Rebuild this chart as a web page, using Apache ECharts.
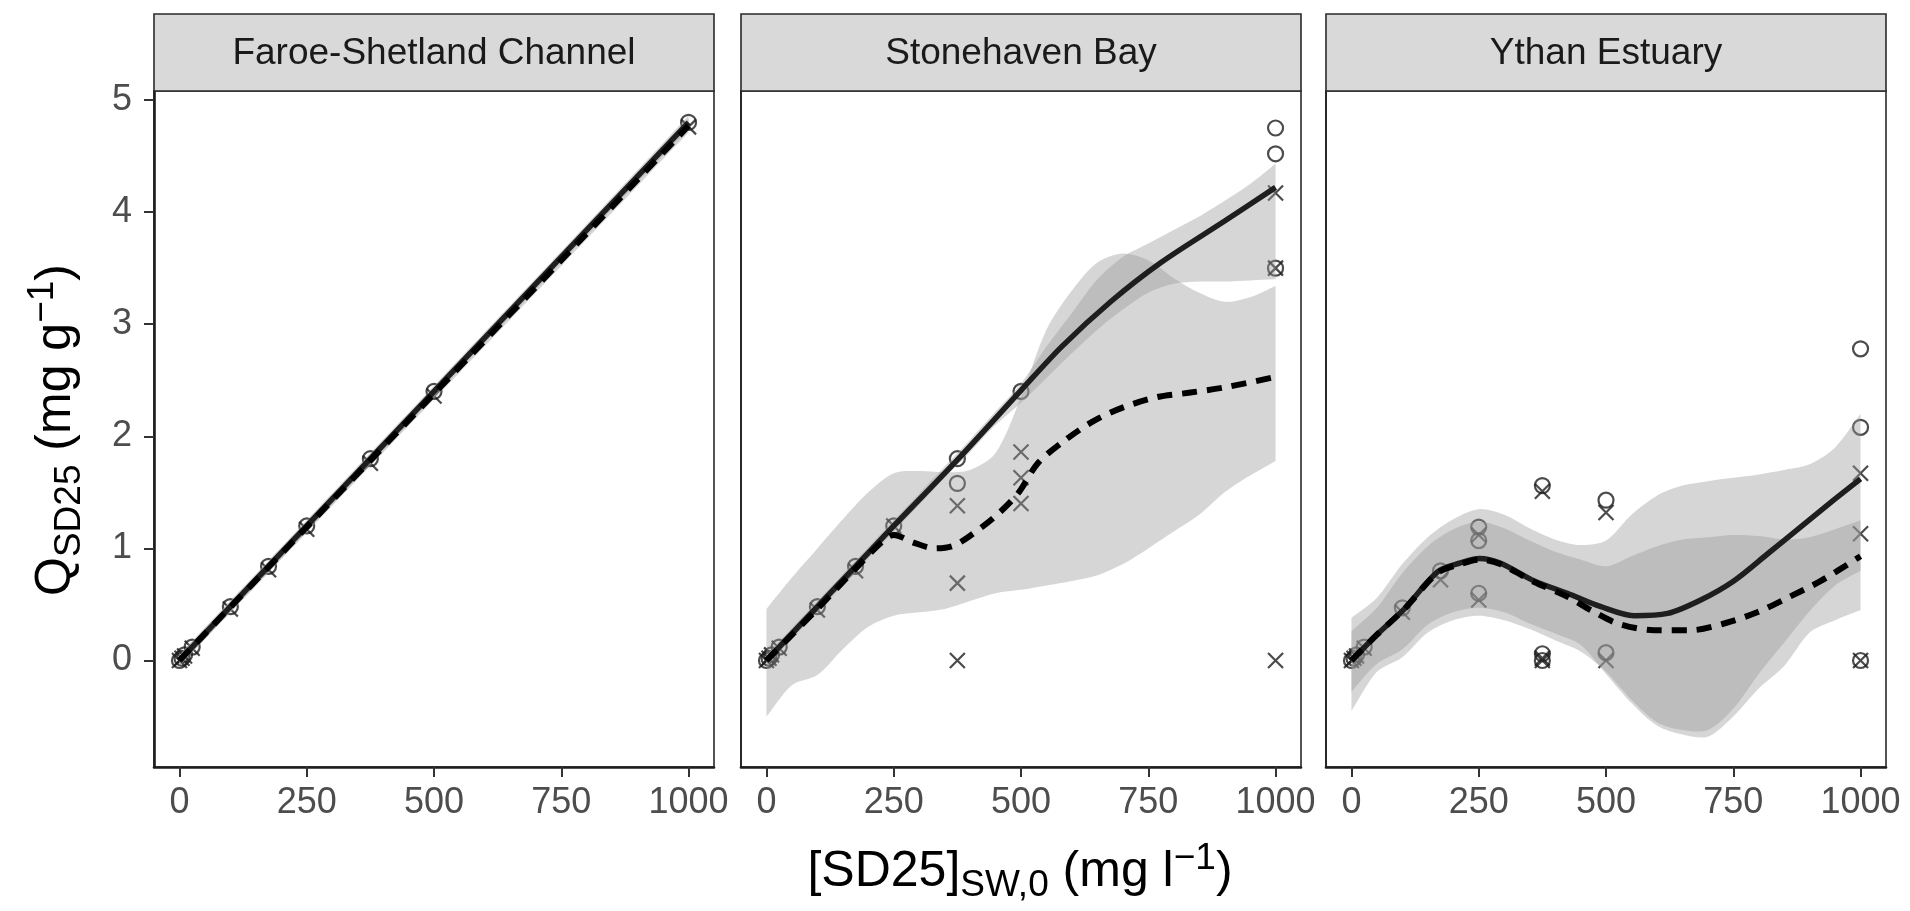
<!DOCTYPE html>
<html>
<head>
<meta charset="utf-8">
<title>SD25 sorption</title>
<script src="https://cdn.jsdelivr.net/npm/echarts@6/dist/echarts.min.js"></script>
<style>
  html, body { margin: 0; padding: 0; background: #ffffff; }
  #chart { width: 1910px; height: 911px; }
</style>
</head>
<body>
<div id="chart"></div>
<script>
// ---------------- data ----------------
const panelNames = ['Faroe-Shetland Channel', 'Stonehaven Bay', 'Ythan Estuary'];
const xTicks = [0, 250, 500, 750, 1000];
const yTicks = [0, 1, 2, 3, 4, 5];

// Faroe-Shetland Channel
const faroeCircleX = [0, 5, 10, 25, 100, 175, 250, 375, 500, 1000];
const faroeCircleY = [0, 0.02, 0.05, 0.12, 0.48, 0.84, 1.2, 1.8, 2.4, 4.8];
const faroeCrossX = [0, 5, 10, 25, 100, 175, 250, 375, 500, 1000];
const faroeCrossY = [0, 0.02, 0.04, 0.11, 0.46, 0.81, 1.17, 1.76, 2.36, 4.76];
const faroeSolidX = [0, 250, 500, 750, 1000];
const faroeSolidY = [0, 1.2, 2.4, 3.6, 4.8];
const faroeDashX = [0, 250, 500, 750, 1000];
const faroeDashY = [0, 1.19, 2.38, 3.57, 4.77];
const faroeBandX = [0, 250, 500, 750, 1000];
const faroeSolidLo = [-0.05, 1.15, 2.35, 3.55, 4.74];
const faroeSolidHi = [0.05, 1.25, 2.45, 3.65, 4.86];
const faroeDashLo = [-0.05, 1.14, 2.33, 3.52, 4.71];
const faroeDashHi = [0.05, 1.24, 2.43, 3.62, 4.83];

// Stonehaven Bay
const stoneCircleX = [0, 5, 10, 25, 100, 175, 250, 375, 375, 500, 1000, 1000, 1000];
const stoneCircleY = [0, 0.02, 0.05, 0.12, 0.48, 0.84, 1.2, 1.8, 1.58, 2.4, 4.75, 4.52, 3.5];
const stoneCrossX = [0, 5, 10, 25, 100, 175, 250, 375, 375, 375, 500, 500, 500, 1000, 1000, 1000];
const stoneCrossY = [0, 0.02, 0.05, 0.11, 0.45, 0.8, 1.2, 1.38, 0.69, 0, 1.86, 1.63, 1.4, 4.17, 3.5, 0];
const stoneSolidX = [0, 100, 175, 250, 375, 500, 580, 676, 775, 900, 1000];
const stoneSolidY = [0, 0.48, 0.84, 1.2, 1.79, 2.41, 2.8, 3.2, 3.55, 3.92, 4.22];
const stoneDashX = [0, 100, 175, 225, 250, 290, 331, 365, 396, 448, 494, 533, 585, 644, 702, 768, 833, 905, 1000];
const stoneDashY = [0, 0.46, 0.82, 1.05, 1.12, 1.05, 1.0, 1.02, 1.1, 1.28, 1.49, 1.76, 1.96, 2.14, 2.26, 2.35, 2.39, 2.44, 2.53];
const stoneBandX = [0, 50, 100, 150, 200, 250, 300, 350, 400, 450, 500, 550, 600, 650, 700, 750, 800, 850, 900, 950, 1000];
const stoneSolidLo = [-0.05, 0.19, 0.43, 0.67, 0.91, 1.15, 1.39, 1.63, 1.86, 2.1, 2.3, 2.52, 2.74, 2.95, 3.13, 3.28, 3.36, 3.38, 3.38, 3.39, 3.4];
const stoneSolidHi = [0.05, 0.29, 0.53, 0.77, 1.01, 1.25, 1.49, 1.73, 1.97, 2.22, 2.47, 2.8, 3.1, 3.4, 3.6, 3.72, 3.84, 3.96, 4.1, 4.25, 4.43];
const stoneDashLo = [-0.5, -0.22, -0.13, 0.1, 0.3, 0.4, 0.43, 0.46, 0.53, 0.6, 0.63, 0.67, 0.71, 0.76, 0.86, 1.0, 1.15, 1.3, 1.5, 1.65, 1.78];
const stoneDashHi = [0.46, 0.74, 1.0, 1.26, 1.5, 1.67, 1.69, 1.68, 1.7, 1.85, 2.35, 2.95, 3.3, 3.55, 3.63, 3.57, 3.41, 3.28, 3.2, 3.24, 3.34];

// Ythan Estuary
const ythanCircleX = [0, 5, 10, 25, 100, 175, 250, 250, 250, 375, 375, 375, 500, 500, 1000, 1000, 1000];
const ythanCircleY = [0, 0.02, 0.05, 0.12, 0.47, 0.8, 1.19, 1.07, 0.6, 1.56, 0.06, 0, 1.43, 0.07, 2.78, 2.08, 0];
const ythanCrossX = [0, 5, 10, 25, 100, 175, 250, 250, 375, 375, 375, 500, 500, 1000, 1000, 1000];
const ythanCrossY = [0, 0.02, 0.04, 0.11, 0.43, 0.72, 1.12, 0.54, 1.51, 0.02, 0, 1.32, 0, 1.67, 1.13, 0];
const ythanSolidX = [0, 50, 104, 169, 214, 251, 292, 359, 424, 490, 555, 621, 686, 751, 817, 882, 947, 1000];
const ythanSolidY = [0, 0.23, 0.46, 0.79, 0.87, 0.91, 0.87, 0.71, 0.6, 0.48, 0.4, 0.42, 0.54, 0.71, 0.95, 1.19, 1.43, 1.62];
const ythanDashX = [0, 50, 104, 169, 214, 251, 292, 359, 424, 470, 523, 595, 667, 732, 797, 857, 922, 1000];
const ythanDashY = [0, 0.23, 0.46, 0.78, 0.86, 0.9, 0.86, 0.7, 0.57, 0.45, 0.33, 0.27, 0.27, 0.33, 0.43, 0.56, 0.71, 0.93];
const ythanBandX = [0, 50, 100, 150, 200, 250, 300, 350, 400, 450, 500, 550, 600, 650, 700, 750, 800, 850, 900, 950, 1000];
const ythanSolidLo = [-0.45, -0.1, 0.03, 0.25, 0.36, 0.4, 0.36, 0.28, 0.18, 0.08, -0.1, -0.35, -0.55, -0.62, -0.62, -0.43, -0.12, 0.16, 0.44, 0.67, 0.8];
const ythanSolidHi = [0.38, 0.56, 0.86, 1.1, 1.26, 1.35, 1.3, 1.18, 1.08, 1.03, 1.07, 1.3, 1.47, 1.56, 1.6, 1.63, 1.66, 1.7, 1.75, 1.9, 2.2];
const ythanDashLo = [-0.28, -0.03, 0.1, 0.32, 0.43, 0.47, 0.43, 0.33, 0.24, 0.14, -0.12, -0.38, -0.58, -0.66, -0.68, -0.5, -0.25, -0.05, 0.25, 0.36, 0.45];
const ythanDashHi = [0.26, 0.47, 0.78, 1.02, 1.17, 1.24, 1.18, 1.07, 0.97, 0.9, 0.84, 0.93, 1.02, 1.08, 1.1, 1.12, 1.11, 1.08, 1.1, 1.17, 1.25];

// ---------------- layout & style ----------------
const FONT = '"Liberation Sans", Arial, Helvetica, sans-serif';
const gridLefts = [154, 741, 1326];
const gridTop = 91;
const gridWidth = 560;
const gridHeight = 676;
const stripTop = 14;
const ribbonFill = 'rgba(153,153,153,0.4)';
const inkColor = '#1e1e1e';

const panels = [
  { cx: faroeCircleX, cy: faroeCircleY, kx: faroeCrossX, ky: faroeCrossY,
    sx: faroeSolidX, sy: faroeSolidY, dx: faroeDashX, dy: faroeDashY,
    bx: faroeBandX, sLo: faroeSolidLo, sHi: faroeSolidHi, dLo: faroeDashLo, dHi: faroeDashHi },
  { cx: stoneCircleX, cy: stoneCircleY, kx: stoneCrossX, ky: stoneCrossY,
    sx: stoneSolidX, sy: stoneSolidY, dx: stoneDashX, dy: stoneDashY,
    bx: stoneBandX, sLo: stoneSolidLo, sHi: stoneSolidHi, dLo: stoneDashLo, dHi: stoneDashHi },
  { cx: ythanCircleX, cy: ythanCircleY, kx: ythanCrossX, ky: ythanCrossY,
    sx: ythanSolidX, sy: ythanSolidY, dx: ythanDashX, dy: ythanDashY,
    bx: ythanBandX, sLo: ythanSolidLo, sHi: ythanSolidHi, dLo: ythanDashLo, dHi: ythanDashHi }
];

const zip = (xs, ys) => xs.map((x, k) => [x, ys[k]]);

function pointSeries(i, xs, ys, shape) {
  return {
    type: 'scatter', xAxisIndex: i, yAxisIndex: i, z: 1, silent: true,
    data: zip(xs, ys),
    symbol: shape === 'circle' ? 'circle' : 'path://M0,0L10,10M10,0L0,10',
    symbolSize: 15,
    itemStyle: { color: 'rgba(0,0,0,0)', borderColor: inkColor, borderWidth: 2.2 }
  };
}

// Confidence band: upper edge left-to-right, lower edge back, corners doubled
// so the smoothing keeps the vertical ends straight.
function ribbonSeries(i, xs, lo, hi) {
  return {
    type: 'custom', xAxisIndex: i, yAxisIndex: i, z: 2, silent: true,
    data: [[xs[0], lo[0]]],
    renderItem: function (params, api) {
      const top = xs.map((x, k) => api.coord([x, hi[k]]));
      const bottom = xs.map((x, k) => api.coord([x, lo[k]])).reverse();
      const pts = [top[0]].concat(top, [top[top.length - 1]], [bottom[0]], bottom, [bottom[bottom.length - 1]]);
      return {
        type: 'polygon',
        shape: { points: pts, smooth: 0.3 },
        style: { fill: ribbonFill, stroke: null }
      };
    }
  };
}

function curveSeries(i, xs, ys, dashed) {
  return {
    type: 'line', xAxisIndex: i, yAxisIndex: i, z: 3, silent: true,
    data: zip(xs, ys),
    smooth: 0.3, showSymbol: false, symbol: 'none',
    lineStyle: dashed
      ? { color: '#000000', width: 6, type: [15, 10], cap: 'butt' }
      : { color: inkColor, width: 5.5 }
  };
}

const grids = [], xAxes = [], yAxes = [], series = [], graphics = [];

panels.forEach((p, i) => {
  grids.push({
    left: gridLefts[i], top: gridTop, width: gridWidth, height: gridHeight,
    show: true, backgroundColor: '#ffffff', borderColor: '#2a2a2a', borderWidth: 1.6,
    containLabel: false
  });
  xAxes.push({
    gridIndex: i, type: 'value', min: -50, max: 1050,
    axisLine: { show: true, onZero: false, lineStyle: { color: inkColor, width: 2.6 } },
    axisTick: { show: true, customValues: xTicks, length: 10, lineStyle: { color: '#333333', width: 2 } },
    axisLabel: { customValues: xTicks, fontSize: 36, color: '#4d4d4d', fontFamily: FONT, margin: 18,
                 formatter: v => String(v) },
    splitLine: { show: false }
  });
  yAxes.push({
    gridIndex: i, type: 'value', min: -0.95, max: 5.08,
    axisLine: { show: true, onZero: false, lineStyle: { color: inkColor, width: i === 0 ? 2.6 : 1.6 } },
    axisTick: { show: i === 0, customValues: yTicks, length: 10, lineStyle: { color: '#333333', width: 2 } },
    axisLabel: { show: i === 0, customValues: yTicks, fontSize: 36, color: '#4d4d4d', fontFamily: FONT, margin: 22,
                 formatter: v => String(v) },
    splitLine: { show: false }
  });

  series.push(pointSeries(i, p.cx, p.cy, 'circle'));
  series.push(pointSeries(i, p.kx, p.ky, 'cross'));
  series.push(ribbonSeries(i, p.bx, p.sLo, p.sHi));
  series.push(ribbonSeries(i, p.bx, p.dLo, p.dHi));
  series.push(curveSeries(i, p.sx, p.sy, false));
  series.push(curveSeries(i, p.dx, p.dy, true));

  // facet strip
  graphics.push({
    type: 'rect', silent: true, z: 10,
    shape: { x: gridLefts[i], y: stripTop, width: gridWidth, height: gridTop - stripTop },
    style: { fill: '#d9d9d9', stroke: '#2a2a2a', lineWidth: 1.6 }
  });
  graphics.push({
    type: 'text', silent: true, z: 11,
    x: gridLefts[i] + gridWidth / 2, y: 54,
    style: { text: panelNames[i], fontSize: 37, fontFamily: FONT, fill: '#1a1a1a', align: 'center', verticalAlign: 'middle' }
  });
});

const richTitle = {
  m: { fontSize: 50, lineHeight: 64, fontFamily: FONT, fill: '#000000' },
  s: { fontSize: 37, verticalAlign: 'bottom', fontFamily: FONT, fill: '#000000' },
  p: { fontSize: 37, verticalAlign: 'top', fontFamily: FONT, fill: '#000000' }
};

// x-axis title
graphics.push({
  type: 'text', silent: true, z: 11,
  x: 1020, y: 872,
  style: {
    text: '{m|[SD25]}{s|SW,0}{m| (mg l}{p|−1}{m|)}',
    rich: richTitle, align: 'center', verticalAlign: 'middle'
  }
});
// y-axis title
graphics.push({
  type: 'text', silent: true, z: 11,
  x: 56, y: 430, rotation: Math.PI / 2,
  style: {
    text: '{m|Q}{s|SD25}{m| (mg g}{p|−1}{m|)}',
    rich: richTitle, align: 'center', verticalAlign: 'middle'
  }
});

const chart = echarts.init(document.getElementById('chart'), null, { renderer: 'canvas', width: 1910, height: 911 });
chart.setOption({
  animation: false,
  backgroundColor: '#ffffff',
  grid: grids,
  xAxis: xAxes,
  yAxis: yAxes,
  series: series,
  graphic: graphics
});
</script>
</body>
</html>
